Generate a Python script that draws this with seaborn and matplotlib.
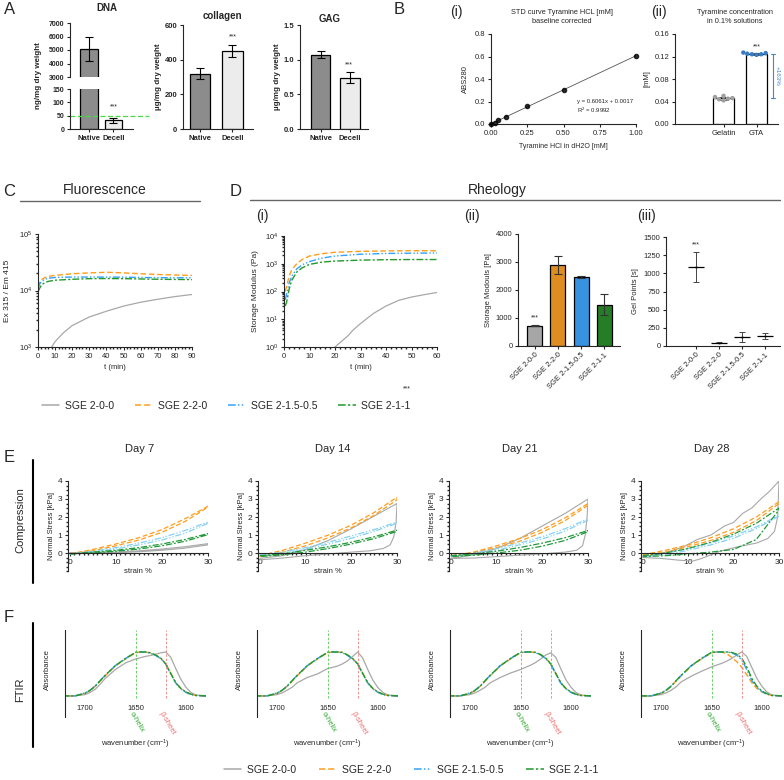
import numpy as np
import pandas as pd
import seaborn as sns
import matplotlib.pyplot as plt
from matplotlib.lines import Line2D
from matplotlib.ticker import MultipleLocator, LogLocator, NullFormatter

# ---------------- data ----------------
# A - decellularisation
a_groups = ["Native", "Decell"]
dna_mean = [5100, 33]
dna_sd = [880, 10]
collagen_mean = [320, 450]
collagen_sd = [30, 35]
gag_mean = [1.07, 0.74]
gag_sd = [0.05, 0.08]

# B(i) standard curve
tyr_conc = [0.0, 0.025, 0.05, 0.1, 0.25, 0.5, 1.0]
tyr_abs = [0.0, 0.012, 0.035, 0.062, 0.158, 0.298, 0.608]
# B(ii) tyramine concentration
tyr_groups = ["Gelatin", "GTA"]
gelatin_pts = [0.048, 0.044, 0.050, 0.046, 0.042, 0.045]
gta_pts = [0.124, 0.125, 0.127, 0.123, 0.124, 0.126]

groups = ["SGE 2-0-0", "SGE 2-2-0", "SGE 2-1.5-0.5", "SGE 2-1-1"]

# C fluorescence
fl_t_gray = [8, 10, 15, 20, 30, 40, 50, 60, 70, 80, 90]
fl_gray = [1000, 1250, 1800, 2400, 3400, 4300, 5300, 6200, 7000, 7800, 8500]
fl_t = [0, 1, 2, 4, 6, 10, 20, 30, 40, 50, 60, 70, 80, 90]
fl_orange = [11500, 14000, 15500, 17000, 17800, 18500, 19800, 20500, 21000, 20500, 19800, 19200, 18800, 18500]
fl_blue = [11000, 13000, 14500, 15800, 16500, 17000, 17300, 17300, 17300, 17200, 17000, 16900, 16800, 16800]
fl_green = [9500, 11000, 12500, 13800, 14500, 15200, 15800, 16200, 16300, 16200, 16000, 15800, 15700, 15600]

# D(i) rheology time sweep
rh_t = [0.5, 1, 2, 3, 5, 7, 10, 15, 20, 30, 40, 50, 60]
rh_orange = [100, 150, 350, 600, 1000, 1400, 1900, 2300, 2600, 2800, 2900, 2950, 2950]
rh_blue = [50, 80, 200, 350, 650, 900, 1200, 1600, 1900, 2200, 2350, 2400, 2450]
rh_green = [30, 40, 120, 250, 500, 700, 950, 1150, 1250, 1350, 1400, 1420, 1420]
rh_t_gray = [20, 25, 27, 30, 35, 40, 45, 50, 55, 60]
rh_gray = [1, 2.5, 4, 7, 16, 30, 48, 63, 77, 92]

# D(ii) storage modulus, D(iii) gel points
sm_mean = [720, 2900, 2470, 1470]
sm_sd = [15, 330, 25, 380]
gp_mean = [1085, 45, 125, 140]
gp_sd = [210, 5, 65, 45]

# E compression loops (loading / unloading)
e_strain = [0, 5, 10, 15, 20, 25, 30]
e_day7 = {
    "SGE 2-2-0": ([-0.05, 0.2, 0.5, 0.85, 1.3, 1.9, 2.6], [-0.05, 0.12, 0.4, 0.72, 1.15, 1.75, 2.55]),
    "SGE 2-1.5-0.5": ([-0.05, 0.1, 0.3, 0.55, 0.85, 1.25, 1.72], [-0.05, 0.05, 0.22, 0.45, 0.72, 1.1, 1.65]),
    "SGE 2-1-1": ([-0.05, 0.05, 0.15, 0.3, 0.5, 0.75, 1.08], [-0.05, 0.0, 0.1, 0.22, 0.4, 0.65, 1.02]),
}
e_day14 = {
    "SGE 2-2-0": ([-0.15, 0.15, 0.55, 1.0, 1.55, 2.25, 3.1], [-0.2, 0.05, 0.4, 0.85, 1.4, 2.1, 2.95]),
    "SGE 2-1.5-0.5": ([-0.1, 0.05, 0.3, 0.6, 0.95, 1.3, 1.72], [-0.15, -0.02, 0.2, 0.5, 0.82, 1.2, 1.65]),
    "SGE 2-1-1": ([-0.15, -0.05, 0.15, 0.35, 0.6, 0.9, 1.27], [-0.2, -0.1, 0.05, 0.25, 0.5, 0.8, 1.2]),
}
e_day21 = {
    "SGE 2-2-0": ([-0.15, 0.05, 0.4, 0.8, 1.3, 1.95, 2.75], [-0.2, 0.0, 0.3, 0.65, 1.15, 1.8, 2.65]),
    "SGE 2-1.5-0.5": ([-0.15, 0.0, 0.25, 0.55, 0.9, 1.35, 1.9], [-0.2, -0.05, 0.15, 0.45, 0.78, 1.22, 1.82]),
    "SGE 2-1-1": ([-0.15, -0.05, 0.1, 0.3, 0.55, 0.85, 1.25], [-0.2, -0.12, 0.0, 0.15, 0.38, 0.7, 1.18]),
}
e_day28 = {
    "SGE 2-2-0": ([-0.1, 0.15, 0.45, 0.85, 1.35, 2.0, 2.85], [-0.15, 0.05, 0.35, 0.7, 1.15, 1.8, 2.75]),
    "SGE 2-1.5-0.5": ([-0.15, 0.0, 0.25, 0.55, 0.95, 1.45, 2.1], [-0.2, -0.1, 0.15, 0.45, 0.82, 1.35, 2.05]),
    "SGE 2-1-1": ([-0.15, 0.0, 0.25, 0.6, 1.05, 1.65, 2.5], [-0.2, -0.15, -0.05, 0.05, 0.2, 0.75, 2.4]),
}
# SGE 2-0-0: (load strain, load stress, unload strain, unload stress)
e_gray = {
    7: ([0, 5, 10, 15, 20, 25, 30], [0, 0.02, 0.05, 0.12, 0.22, 0.35, 0.52],
        [30, 25, 20, 15, 10, 5, 0], [0.45, 0.27, 0.15, 0.07, 0.02, 0.0, 0.0]),
    14: ([0, 5, 10, 15, 20, 25, 30], [-0.3, -0.15, 0.2, 0.7, 1.35, 2.05, 2.75],
         [30, 29.8, 29.3, 28.5, 27, 24, 20, 15, 10, 5, 0],
         [2.75, 1.7, 0.9, 0.45, 0.25, 0.12, 0.05, -0.05, -0.15, -0.28, -0.38]),
    21: ([0, 5, 10, 15, 20, 25, 30], [-0.3, -0.1, 0.25, 0.8, 1.5, 2.2, 3.0],
         [30, 29.8, 29.4, 28.8, 27.5, 25, 20, 15, 10, 5, 0],
         [3.0, 2.0, 1.0, 0.4, 0.15, 0.05, -0.05, -0.12, -0.2, -0.28, -0.3]),
    28: ([0, 3, 6, 9, 12, 15, 18, 20, 22, 24, 26, 28, 30],
         [-0.2, -0.1, 0.1, 0.35, 0.75, 1.0, 1.5, 1.7, 2.2, 2.5, 3.0, 3.45, 4.0],
         [30, 29.7, 29, 27.5, 25, 21, 17, 13, 11, 8, 4, 0],
         [4.0, 2.0, 1.2, 0.8, 0.55, 0.35, 0.1, -0.3, -0.45, -0.4, -0.3, -0.25]),
}

# F FTIR
wn = [1720, 1710, 1700, 1695, 1690, 1685, 1680, 1670, 1660, 1650, 1645, 1640,
      1635, 1630, 1625, 1620, 1615, 1610, 1605, 1600, 1595, 1590, 1580]
ftir_d7 = {
    "SGE 2-0-0": [0, 0, 0.03, 0.08, 0.15, 0.27, 0.4, 0.6, 0.75, 0.84, 0.87, 0.9, 0.92, 0.95, 0.98, 1.0, 0.88, 0.62, 0.38, 0.2, 0.08, 0.02, 0],
    "SGE 2-2-0": [0, 0, 0.06, 0.12, 0.22, 0.34, 0.46, 0.68, 0.84, 0.98, 1.0, 1.0, 0.98, 0.93, 0.86, 0.74, 0.52, 0.3, 0.17, 0.09, 0.04, 0.01, 0],
    "SGE 2-1.5-0.5": [0, 0, 0.07, 0.13, 0.23, 0.35, 0.47, 0.69, 0.85, 0.99, 1.0, 1.0, 0.97, 0.92, 0.85, 0.72, 0.5, 0.29, 0.16, 0.08, 0.03, 0.01, 0],
    "SGE 2-1-1": [0, 0, 0.06, 0.13, 0.22, 0.35, 0.47, 0.69, 0.85, 0.99, 1.0, 1.0, 0.98, 0.93, 0.86, 0.73, 0.51, 0.3, 0.17, 0.09, 0.04, 0.01, 0],
}
ftir_d14 = {
    "SGE 2-0-0": [0, 0, 0.03, 0.07, 0.13, 0.2, 0.3, 0.42, 0.5, 0.62, 0.65, 0.68, 0.73, 0.8, 0.9, 1.0, 0.86, 0.6, 0.36, 0.19, 0.08, 0.02, 0],
    "SGE 2-2-0": [0, 0, 0.06, 0.12, 0.22, 0.34, 0.46, 0.68, 0.84, 0.98, 1.0, 1.0, 0.99, 0.93, 0.85, 0.73, 0.52, 0.3, 0.17, 0.09, 0.04, 0.01, 0],
    "SGE 2-1.5-0.5": [0, 0, 0.07, 0.13, 0.23, 0.35, 0.47, 0.69, 0.85, 0.99, 1.0, 1.0, 0.98, 0.92, 0.84, 0.72, 0.5, 0.29, 0.16, 0.08, 0.03, 0.01, 0],
    "SGE 2-1-1": [0, 0, 0.06, 0.13, 0.22, 0.35, 0.47, 0.69, 0.85, 0.99, 1.0, 1.0, 0.99, 0.93, 0.85, 0.73, 0.51, 0.3, 0.17, 0.09, 0.04, 0.01, 0],
}
ftir_d21 = {
    "SGE 2-0-0": [0, 0, 0.03, 0.07, 0.13, 0.2, 0.3, 0.42, 0.52, 0.6, 0.65, 0.7, 0.76, 0.84, 0.93, 0.98, 0.88, 0.62, 0.37, 0.2, 0.08, 0.02, 0],
    "SGE 2-2-0": [0, 0, 0.06, 0.12, 0.22, 0.34, 0.46, 0.68, 0.84, 0.98, 1.0, 1.0, 0.99, 0.94, 0.86, 0.74, 0.52, 0.3, 0.17, 0.09, 0.04, 0.01, 0],
    "SGE 2-1.5-0.5": [0, 0, 0.07, 0.13, 0.23, 0.35, 0.47, 0.69, 0.85, 0.99, 1.0, 1.0, 0.98, 0.93, 0.85, 0.72, 0.5, 0.29, 0.16, 0.08, 0.03, 0.01, 0],
    "SGE 2-1-1": [0, 0, 0.06, 0.13, 0.22, 0.35, 0.47, 0.69, 0.85, 0.99, 1.0, 1.0, 0.99, 0.94, 0.86, 0.73, 0.51, 0.3, 0.17, 0.09, 0.04, 0.01, 0],
}
ftir_d28 = {
    "SGE 2-0-0": [0, 0, 0.03, 0.07, 0.13, 0.21, 0.32, 0.45, 0.56, 0.66, 0.7, 0.74, 0.79, 0.85, 0.93, 1.0, 0.9, 0.65, 0.4, 0.22, 0.09, 0.02, 0],
    "SGE 2-2-0": [0, 0, 0.06, 0.12, 0.22, 0.34, 0.46, 0.68, 0.84, 0.98, 1.0, 1.0, 0.96, 0.88, 0.78, 0.65, 0.48, 0.3, 0.17, 0.09, 0.04, 0.01, 0],
    "SGE 2-1.5-0.5": [0, 0, 0.07, 0.13, 0.23, 0.35, 0.47, 0.69, 0.85, 0.99, 1.0, 1.0, 1.0, 0.98, 0.93, 0.82, 0.6, 0.35, 0.2, 0.1, 0.04, 0.01, 0],
    "SGE 2-1-1": [0, 0, 0.06, 0.13, 0.22, 0.35, 0.47, 0.69, 0.85, 0.99, 1.0, 1.0, 1.0, 0.99, 0.95, 0.86, 0.66, 0.4, 0.22, 0.11, 0.05, 0.01, 0],
}

# ---------------- style ----------------
sns.set_theme(style="ticks")
plt.rcParams["font.family"] = ["Liberation Sans", "DejaVu Sans"]
plt.rcParams["axes.linewidth"] = 0.8
plt.rcParams["xtick.major.width"] = 0.8
plt.rcParams["ytick.major.width"] = 0.8
plt.rcParams["xtick.major.size"] = 2.5
plt.rcParams["ytick.major.size"] = 2.5
plt.rcParams["xtick.minor.size"] = 1.2
plt.rcParams["ytick.minor.size"] = 1.2
plt.rcParams["mathtext.default"] = "regular"

line_col = {"SGE 2-0-0": "#a8a8a8", "SGE 2-2-0": "#ff9d1c",
            "SGE 2-1.5-0.5": "#33a3ff", "SGE 2-1-1": "#22992a"}
e_col = {"SGE 2-0-0": "#a8a8a8", "SGE 2-2-0": "#ff9d1c",
         "SGE 2-1.5-0.5": "#86d0f2", "SGE 2-1-1": "#22993a"}
line_ls = {"SGE 2-0-0": "-", "SGE 2-2-0": (0, (4, 2)),
           "SGE 2-1.5-0.5": (0, (5, 1.5, 1, 1.5, 1, 1.5)), "SGE 2-1-1": (0, (5, 1.5, 1.5, 1.5))}
bar_col = ["#a6a6a6", "#ff9100", "#1a94ff", "#168c16"]

W, H = 784, 780
fig = plt.figure(figsize=(W / 100, H / 100), dpi=100)


def box(x0, y0, x1, y1):
    return fig.add_axes([x0 / W, 1 - y1 / H, (x1 - x0) / W, (y1 - y0) / H])


def ftxt(x, y, s, **kw):
    kw.setdefault("ha", "center")
    kw.setdefault("va", "center")
    fig.text(x / W, 1 - y / H, s, **kw)


def fline(xs, ys, color="black", lw=1.2):
    fig.add_artist(Line2D([x / W for x in xs], [1 - y / H for y in ys], color=color, lw=lw))


def tidy(ax, fs=5.5, bold=False):
    sns.despine(ax=ax)
    ax.tick_params(labelsize=fs, pad=1.5)
    if bold:
        for lab in ax.get_xticklabels() + ax.get_yticklabels():
            lab.set_fontweight("bold")


def bar_pair(ax, means, sds, width):
    sns.barplot(x=a_groups, y=means, hue=a_groups, palette=["#8c8c8c", "#ececec"], legend=False,
                edgecolor="black", linewidth=0.9, width=width, ax=ax)
    ax.errorbar([0, 1], means, yerr=sds, fmt="none", ecolor="black", elinewidth=0.8,
                capsize=3, capthick=0.8)


# ---------------- A ----------------
ftxt(10, 10, "A", fontsize=12)
ax_t = box(70, 23, 133, 77)
bar_pair(ax_t, dna_mean, dna_sd, 0.73)
ax_t.set_ylim(3000, 7000)
ax_t.set_yticks([3000, 4000, 5000, 6000, 7000])
ax_t.set_xlim(-0.78, 1.8)
ax_t.set_xticks([])
tidy(ax_t, fs=5, bold=True)
ax_t.spines["bottom"].set_visible(False)

ax_b = box(70, 89, 133, 129)
bar_pair(ax_b, dna_mean, dna_sd, 0.73)
ax_b.set_ylim(0, 150)
ax_b.set_yticks([0, 50, 100, 150])
ax_b.set_xlim(-0.78, 1.8)
ax_b.plot([0, 1.25], [50, 50], color="#44dd44", lw=0.9, ls=(0, (4, 2)),
          transform=ax_b.get_yaxis_transform(), clip_on=False)
ax_b.text(1, dna_mean[1] + 45, "***", ha="center", fontsize=5)
tidy(ax_b, fs=5, bold=True)
ax_b.tick_params(axis="x", labelsize=5.5)
ftxt(107, 8, "DNA", fontsize=7, fontweight="bold")
ftxt(39, 76, "ng/mg dry weight", rotation=90, fontsize=5.8, fontweight="bold")

ax = box(183, 25, 253, 129)
bar_pair(ax, collagen_mean, collagen_sd, 0.62)
ax.set_ylim(0, 600)
ax.set_yticks([0, 200, 400, 600])
ax.set_xlim(-0.52, 1.63)
ax.text(1, 525, "***", ha="center", fontsize=5)
ax.set_ylabel("µg/mg dry weight", fontsize=5.8, fontweight="bold", labelpad=2)
tidy(ax, bold=True)
ftxt(222, 16, "collagen", fontsize=7, fontweight="bold")

ax = box(300, 25, 368, 129)
bar_pair(ax, gag_mean, gag_sd, 0.65)
ax.set_ylim(0, 1.5)
ax.set_yticks([0, 0.5, 1.0, 1.5])
ax.set_yticklabels(["0.0", "0.5", "1.0", "1.5"])
ax.set_xlim(-0.7, 1.61)
ax.text(0.97, 0.9, "***", ha="center", fontsize=5)
ax.set_ylabel("µg/mg dry weight", fontsize=5.8, fontweight="bold", labelpad=2)
tidy(ax, bold=True)
ftxt(330, 19, "GAG", fontsize=7, fontweight="bold")

# ---------------- B ----------------
ftxt(399, 10, "B", fontsize=12)
ftxt(456, 12, "(i)", fontsize=10)
ax = box(491, 34, 636, 124)
sns.regplot(x=tyr_conc, y=tyr_abs, ci=None, color="black", ax=ax,
            scatter_kws=dict(s=9, clip_on=False, zorder=3), line_kws=dict(lw=0.6, color="#555555"))
ax.set_xlim(0, 1.0)
ax.set_ylim(0, 0.8)
ax.set_xticks([0, 0.25, 0.5, 0.75, 1.0])
ax.set_xticklabels(["0.00", "0.25", "0.50", "0.75", "1.00"])
ax.set_yticks([0, 0.2, 0.4, 0.6, 0.8])
ax.set_xlabel("Tyramine HCl in dH2O [mM]", fontsize=5, labelpad=5)
ax.set_ylabel("ABS280", fontsize=5.5, labelpad=4)
ax.text(0.59, 0.225, "y = 0.6061x + 0.0017\nR$^2$ = 0.9992", fontsize=4.3, va="top", linespacing=1.3)
tidy(ax)
ftxt(562, 17, "STD curve Tyramine HCL [mM]\nbaseline corrected", fontsize=5.3, linespacing=1.3)

ftxt(659, 12, "(ii)", fontsize=10)
ax = box(675, 34, 778, 124)
tyr_df = pd.DataFrame({"group": ["Gelatin"] * len(gelatin_pts) + ["GTA"] * len(gta_pts),
                       "conc": gelatin_pts + gta_pts})
sns.barplot(data=tyr_df, x="group", y="conc", errorbar="sd", color="white", edgecolor="black",
            linewidth=0.9, width=0.64, capsize=0.3, err_kws={"linewidth": 0.7, "color": "#444444"}, ax=ax)
sns.swarmplot(data=tyr_df, x="group", y="conc", hue="group", palette=["#a0a0a0", "#3a7cc0"],
              legend=False, size=3.2, ax=ax)
ax.set_xlim(-1.47, 1.65)
ax.set_ylim(0, 0.16)
ax.set_yticks([0, 0.04, 0.08, 0.12, 0.16])
ax.set_yticklabels(["0.00", "0.04", "0.08", "0.12", "0.16"])
ax.set_xlabel("")
ax.set_ylabel("[mM]", fontsize=5.5, labelpad=3)
lo, hi = np.mean(gelatin_pts), np.mean(gta_pts)
ax.text(1, hi + 0.01, "***", ha="center", fontsize=5)
blue = "#4a86c5"
ax.plot([1.5, 1.5], [lo, hi], color=blue, lw=0.8, clip_on=False)
ax.plot([1.43, 1.57], [lo, lo], color=blue, lw=0.8, clip_on=False)
ax.plot([1.43, 1.57], [hi, hi], color=blue, lw=0.8, clip_on=False)
ax.text(1.63, (lo + hi) / 2, "+163%", rotation=270, color=blue, fontsize=4.5,
        ha="center", va="center", clip_on=False)
tidy(ax)
ftxt(735, 17, "Tyramine concentration\nin 0.1% solutions", fontsize=5.3, linespacing=1.3)

# ---------------- C ----------------
ftxt(9, 192, "C", fontsize=12)
ftxt(105, 190, "Fluorescence", fontsize=10)
fline([20, 200], [201, 201], color="#666666", lw=1.0)
ax = box(38, 234, 192, 347)
ax.set_yscale("log")
sns.lineplot(x=fl_t_gray, y=fl_gray, color=line_col["SGE 2-0-0"], lw=0.9, ax=ax)
for g, vals in zip(groups[1:], [fl_orange, fl_blue, fl_green]):
    sns.lineplot(x=fl_t, y=vals, color=line_col[g], linestyle=line_ls[g], lw=1.0, ax=ax)
ax.set_ylim(1e3, 1e5)
ax.set_xlim(0, 90)
ax.set_xticks(range(0, 91, 10))
ax.xaxis.set_minor_locator(MultipleLocator(2))
ax.yaxis.set_minor_locator(LogLocator(subs=np.arange(2, 10)))
ax.yaxis.set_minor_formatter(NullFormatter())
ax.set_xlabel("t (min)", fontsize=5.5, labelpad=3)
ax.set_ylabel("Ex 315 / Em 415", fontsize=6, labelpad=6)
tidy(ax)

# ---------------- D ----------------
ftxt(236, 192, "D", fontsize=12)
ftxt(497, 190, "Rheology", fontsize=10)
fline([250, 780], [200, 200], color="#666666", lw=1.0)

ftxt(262, 216, "(i)", fontsize=10)
ax = box(284, 236, 437, 347)
ax.set_yscale("log")
sns.lineplot(x=rh_t_gray, y=rh_gray, color=line_col["SGE 2-0-0"], lw=0.9, ax=ax)
for g, vals in zip(groups[1:], [rh_orange, rh_blue, rh_green]):
    sns.lineplot(x=rh_t, y=vals, color=line_col[g], linestyle=line_ls[g], lw=1.0, ax=ax)
ax.set_ylim(1, 1e4)
ax.set_xlim(0, 60)
ax.set_xticks(range(0, 61, 10))
ax.xaxis.set_minor_locator(MultipleLocator(2))
ax.yaxis.set_minor_locator(LogLocator(subs=np.arange(2, 10)))
ax.yaxis.set_minor_formatter(NullFormatter())
ax.set_xlabel("t (min)", fontsize=5.5, labelpad=3)
ax.set_ylabel("Storage Modulus (Pa)", fontsize=6, labelpad=4)
tidy(ax)
ftxt(407, 389, "***", fontsize=5)

ftxt(472, 216, "(ii)", fontsize=10)
ax = box(518, 234, 620, 346)
sns.barplot(x=groups, y=sm_mean, hue=groups, palette=bar_col, legend=False, edgecolor="black",
            linewidth=0.9, width=0.64, ax=ax)
ax.errorbar(range(4), sm_mean, yerr=sm_sd, fmt="none", ecolor="#333333", elinewidth=0.8,
            capsize=3, capthick=0.8)
ax.text(0, sm_mean[0] + 230, "***", ha="center", fontsize=5)
ax.set_xlim(-0.71, 3.67)
ax.set_ylim(0, 4000)
ax.set_yticks(range(0, 4001, 1000))
ax.set_xticks(range(4))
ax.set_xticklabels(groups, rotation=45, ha="right", rotation_mode="anchor")
ax.set_ylabel("Storage Modouls [Pa]", fontsize=5.5, labelpad=3)
tidy(ax)

ftxt(646, 216, "(iii)", fontsize=10)
ax = box(666, 237, 780, 346)
gp_x = np.arange(4)
ax.errorbar(gp_x, gp_mean, yerr=gp_sd, fmt="none", ecolor="#444444", elinewidth=0.7,
            capsize=2.5, capthick=0.7)
ax.hlines(gp_mean, gp_x - 0.35, gp_x + 0.35, color="black", lw=0.9)
sns.scatterplot(x=gp_x, y=gp_mean, color="#888888", s=4, ax=ax, legend=False)
ax.text(0, gp_mean[0] + gp_sd[0] + 70, "***", ha="center", fontsize=5)
ax.set_xlim(-1.3, 3.65)
ax.set_ylim(0, 1500)
ax.set_yticks(range(0, 1501, 250))
ax.set_xticks(range(4))
ax.set_xticklabels(groups, rotation=45, ha="right", rotation_mode="anchor")
ax.set_ylabel("Gel Points [s]", fontsize=5.5, labelpad=3)
tidy(ax)

# legend row 1
handles = [Line2D([], [], color=line_col[g], ls=line_ls[g], lw=1.1) for g in groups]
fig.legend(handles, groups, loc="center", bbox_to_anchor=(226 / W, 1 - 406 / H), ncol=4,
           frameon=False, fontsize=7.5, handlelength=1.7, handletextpad=0.5, columnspacing=2.0)

# ---------------- E ----------------
ftxt(9, 458, "E", fontsize=12)
fline([33, 33], [460, 583], lw=1.5)
ftxt(20, 520, "Compression", rotation=90, fontsize=8)
e_days = [(7, e_day7, 68, 208, 140), (14, e_day14, 258, 397, 333),
          (21, e_day21, 449, 588, 520), (28, e_day28, 641, 779, 712)]
for day, loops, x0, x1, xt in e_days:
    ax = box(x0, 481, x1, 571)
    gx_up, gy_up, gx_dn, gy_dn = e_gray[day]
    sns.lineplot(x=gx_up + gx_dn, y=gy_up + gy_dn, sort=False, estimator=None,
                 color=e_col["SGE 2-0-0"], lw=0.8, ax=ax)
    for g in groups[1:]:
        up, dn = loops[g]
        sns.lineplot(x=e_strain + e_strain[::-1], y=up + dn[::-1], sort=False, estimator=None,
                     color=e_col[g], linestyle=line_ls[g], lw=0.9, ax=ax)
    ax.set_xlim(-0.4, 30)
    ax.set_ylim(-1, 4)
    ax.spines["bottom"].set_position(("data", 0))
    ax.set_xticks([0, 10, 20, 30])
    ax.set_yticks([0, 1, 2, 3, 4])
    ax.xaxis.set_minor_locator(MultipleLocator(1))
    ax.yaxis.set_minor_locator(MultipleLocator(0.25))
    ax.set_xlabel("strain %", fontsize=5.5, labelpad=2)
    ax.set_ylabel("Normal Stress [kPa]", fontsize=5.5, labelpad=2)
    tidy(ax, fs=6)
    ftxt(xt, 449, f"Day {day}", fontsize=8)

# ---------------- F ----------------
ftxt(9, 617, "F", fontsize=12)
fline([33, 33], [623, 747], lw=1.5)
ftxt(20, 690, "FTIR", rotation=90, fontsize=8)
f_days = [(ftir_d7, 65), (ftir_d14, 257), (ftir_d21, 450), (ftir_d28, 641)]
for spectra, x0 in f_days:
    ax = box(x0, 630, x0 + 141, 717)
    for g in groups:
        sns.lineplot(x=wn, y=spectra[g], color=line_col[g], linestyle=line_ls[g],
                     lw=0.9 if g == "SGE 2-0-0" else 1.0, ax=ax)
    ax.set_xlim(1720, 1580)
    ax.set_ylim(-0.48, 1.5)
    ax.vlines(1650, -0.05, 1.5, color="#55cc55", lw=0.6, ls=(0, (3, 2)))
    ax.vlines(1620, -0.05, 1.5, color="#f08080", lw=0.6, ls=(0, (3, 2)))
    ax.text(1652, -0.33, "α-helix", color="#33aa33", fontsize=5.5, rotation=-60,
            rotation_mode="anchor", ha="left", va="top")
    ax.text(1622, -0.33, "β-sheet", color="#f07070", fontsize=5.5, rotation=-60,
            rotation_mode="anchor", ha="left", va="top")
    ax.set_yticks([])
    ax.set_xticks([1700, 1650, 1600])
    ax.tick_params(axis="x", length=0, pad=-9, labelsize=5.5)
    for s in ["top", "right", "bottom"]:
        ax.spines[s].set_visible(False)
    ax.set_xlabel("wavenumber (cm$^{-1}$)", fontsize=5.5)
    ax.xaxis.set_label_coords(0.5, -0.24)
    ax.set_ylabel("Absorbance", fontsize=5.5)
    ax.yaxis.set_label_coords(-0.1, 0.55)

fig.legend(handles, groups, loc="center", bbox_to_anchor=(411 / W, 1 - 770 / H), ncol=4,
           frameon=False, fontsize=7.5, handlelength=1.7, handletextpad=0.5, columnspacing=2.2)

fig.savefig("out.png", dpi=100)
